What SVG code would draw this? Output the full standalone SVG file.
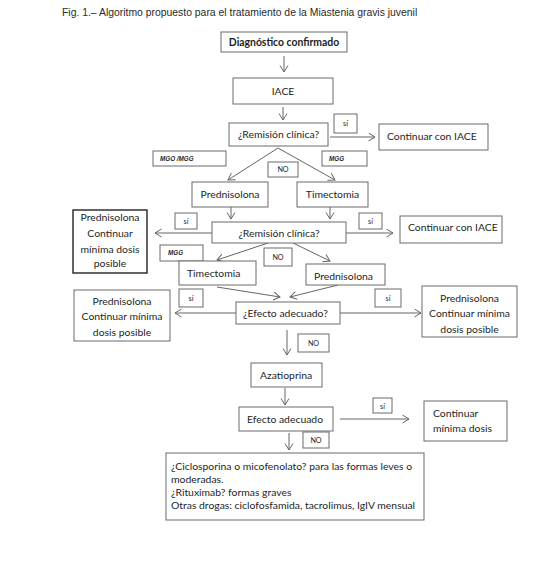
<svg xmlns="http://www.w3.org/2000/svg" width="557" height="570" viewBox="0 0 557 570">
<defs>
<marker id="ah" markerUnits="userSpaceOnUse" markerWidth="8" markerHeight="10" refX="7" refY="4.5" orient="auto">
<path d="M0.5,0.5 L7,4.5 L0.5,8.5" fill="none" stroke="#666" stroke-width="1"/>
</marker>
<style>
.b{fill:#fff;stroke:#6a6a6a;stroke-width:1}
.bk{fill:#fff;stroke:#111;stroke-width:1.3}
.t{font-family:Lato,"Open Sans","Liberation Sans",sans-serif;font-size:10.4px;fill:#1e1e1e}
.c{text-anchor:middle}
.bd{font-weight:bold}
.s{font-family:Lato,"Liberation Sans",sans-serif;font-size:7.2px;fill:#1e1e1e}
.mg{font-family:"Liberation Sans",sans-serif;font-size:6.3px;font-weight:bold;font-style:italic;fill:#1e1e1e}
.ti{font-family:"Liberation Sans",Arial,sans-serif;font-size:10.4px;fill:#2a2a2a}
.l{fill:none;stroke:#666;stroke-width:1;marker-end:url(#ah)}
</style>
</defs>
<rect width="557" height="570" fill="#fff"/>
<text class="ti" x="62" y="16">Fig. 1.– Algoritmo propuesto para el tratamiento de la Miastenia gravis juvenil</text>

<g id="connectors">
<line class="l" x1="284" y1="56" x2="284" y2="72"/>
<line class="l" x1="283" y1="107" x2="283" y2="120"/>
<line class="l" x1="330" y1="137" x2="375" y2="137"/>
<line class="l" x1="278" y1="148" x2="228" y2="180"/>
<line class="l" x1="278" y1="148" x2="335" y2="180"/>
<line class="l" x1="231" y1="207" x2="231" y2="219"/>
<line class="l" x1="330" y1="207" x2="330" y2="219"/>
<line class="l" x1="212" y1="233" x2="155" y2="233"/>
<line class="l" x1="346" y1="233" x2="393" y2="233"/>
<line class="l" x1="268" y1="243" x2="217" y2="260"/>
<line class="l" x1="293" y1="243" x2="330" y2="261"/>
<line class="l" x1="217" y1="287" x2="280" y2="297"/>
<line class="l" x1="338" y1="285" x2="290" y2="297"/>
<line class="l" x1="236" y1="313" x2="175" y2="313"/>
<line class="l" x1="340" y1="313" x2="421" y2="313"/>
<line class="l" x1="287" y1="330" x2="287" y2="355"/>
<line class="l" x1="285" y1="388" x2="285" y2="405"/>
<line class="l" x1="340" y1="419" x2="409" y2="419"/>
<line class="l" x1="289" y1="433" x2="289" y2="450"/>
</g>

<g id="diag"><rect class="b" x="221" y="32" width="126" height="20"/><text class="t c bd" x="284" y="46">Diagnóstico confirmado</text></g>
<g id="iace"><rect class="b" x="233" y="78" width="100" height="26"/><text class="t c" x="283" y="95">IACE</text></g>
<g id="rem1"><rect class="b" x="229" y="123" width="99" height="23"/><text class="t c" x="278.5" y="138">¿Remisión clínica?</text></g>
<g id="si1"><rect class="b" x="334" y="114" width="23" height="19"/><text class="s c" x="345.5" y="126">sí</text></g>
<g id="cont1"><rect class="b" x="379" y="124" width="109" height="26"/><text class="t" x="387" y="140">Continuar con IACE</text></g>
<g id="mgo"><rect class="b" x="153" y="151" width="73" height="15"/><text class="mg" x="160" y="161">MGO /MGG</text></g>
<g id="mgg1"><rect class="b" x="322" y="151" width="45" height="15"/><text class="mg" x="329" y="161">MGG</text></g>
<g id="no1"><rect class="b" x="268" y="162" width="30" height="15"/><text class="s c" x="283" y="172">NO</text></g>
<g id="pred1"><rect class="b" x="192" y="182" width="76" height="25"/><text class="t c" x="230" y="198">Prednisolona</text></g>
<g id="tim1"><rect class="b" x="297" y="182" width="71" height="25"/><text class="t c" x="332.5" y="198">Timectomia</text></g>
<g id="rem2"><rect class="b" x="212" y="222" width="134" height="21"/><text class="t c" x="279" y="237">¿Remisión clínica?</text></g>
<g id="si2l"><rect class="b" x="175" y="213" width="22" height="16"/><text class="s c" x="186" y="223.5">sí</text></g>
<g id="predL"><rect class="bk" x="73" y="210" width="74" height="63"/><text class="t c" x="110" y="221">Prednisolona</text><text class="t c" x="110" y="237">Continuar</text><text class="t c" x="110" y="253">mínima dosis</text><text class="t c" x="110" y="267">posible</text></g>
<g id="si2r"><rect class="b" x="359" y="213" width="23" height="16"/><text class="s c" x="370.5" y="223.5">sí</text></g>
<g id="cont2"><rect class="b" x="400" y="216" width="102" height="27"/><text class="t" x="408" y="231">Continuar con IACE</text></g>
<g id="mgg2"><rect class="b" x="160" y="245" width="43" height="16"/><text class="mg" x="168" y="255">MGG</text></g>
<g id="no2"><rect class="b" x="264" y="248" width="28" height="18"/><text class="s c" x="278" y="259.5">NO</text></g>
<g id="tim2"><rect class="b" x="179" y="261" width="77" height="24"/><text class="t" x="187" y="277">Timectomia</text></g>
<g id="pred2"><rect class="b" x="306" y="264" width="79" height="21"/><text class="t" x="314" y="280">Prednisolona</text></g>
<g id="efecto"><rect class="b" x="236" y="302" width="104" height="22"/><text class="t" x="243" y="317">¿Efecto adecuado?</text></g>
<g id="si3l"><rect class="b" x="179" y="289" width="24" height="18"/><text class="s c" x="191" y="300.5">sí</text></g>
<g id="predL2"><rect class="b" x="74" y="290" width="96" height="51"/><text class="t c" x="122" y="305">Prednisolona</text><text class="t c" x="122" y="320">Continuar mínima</text><text class="t c" x="122" y="336">dosis  posible</text></g>
<g id="si3r"><rect class="b" x="375" y="289" width="26" height="18"/><text class="s c" x="388" y="300.5">sí</text></g>
<g id="predR"><rect class="b" x="422" y="286" width="95" height="51"/><text class="t c" x="469.5" y="302">Prednisolona</text><text class="t c" x="469.5" y="317">Continuar mínima</text><text class="t c" x="469.5" y="333">dosis posible</text></g>
<g id="no3"><rect class="b" x="298" y="334" width="31" height="18"/><text class="s c" x="313.5" y="345.5">NO</text></g>
<g id="aza"><rect class="b" x="251" y="363" width="71" height="24"/><text class="t" x="260" y="379">Azatioprina</text></g>
<g id="efecto2"><rect class="b" x="239" y="407" width="94" height="24"/><text class="t" x="247" y="423">Efecto adecuado</text></g>
<g id="si4"><rect class="b" x="373" y="398" width="19" height="15"/><text class="s c" x="382.5" y="408.5">sí</text></g>
<g id="cont3"><rect class="b" x="424" y="401" width="83" height="40"/><text class="t" x="433" y="417">Continuar</text><text class="t" x="433" y="432">mínima dosis</text></g>
<g id="no4"><rect class="b" x="303" y="432" width="26" height="16"/><text class="s c" x="316" y="442.5">NO</text></g>
<g id="final"><rect class="b" x="166" y="453" width="258" height="67"/><text class="t" x="171" y="470">¿Ciclosporina o micofenolato? para las formas leves o</text><text class="t" x="171" y="483">moderadas.</text><text class="t" x="171" y="496">¿Rituximab? formas graves</text><text class="t" x="171" y="509">Otras drogas: ciclofosfamida, tacrolimus, IgIV mensual</text></g>
</svg>
